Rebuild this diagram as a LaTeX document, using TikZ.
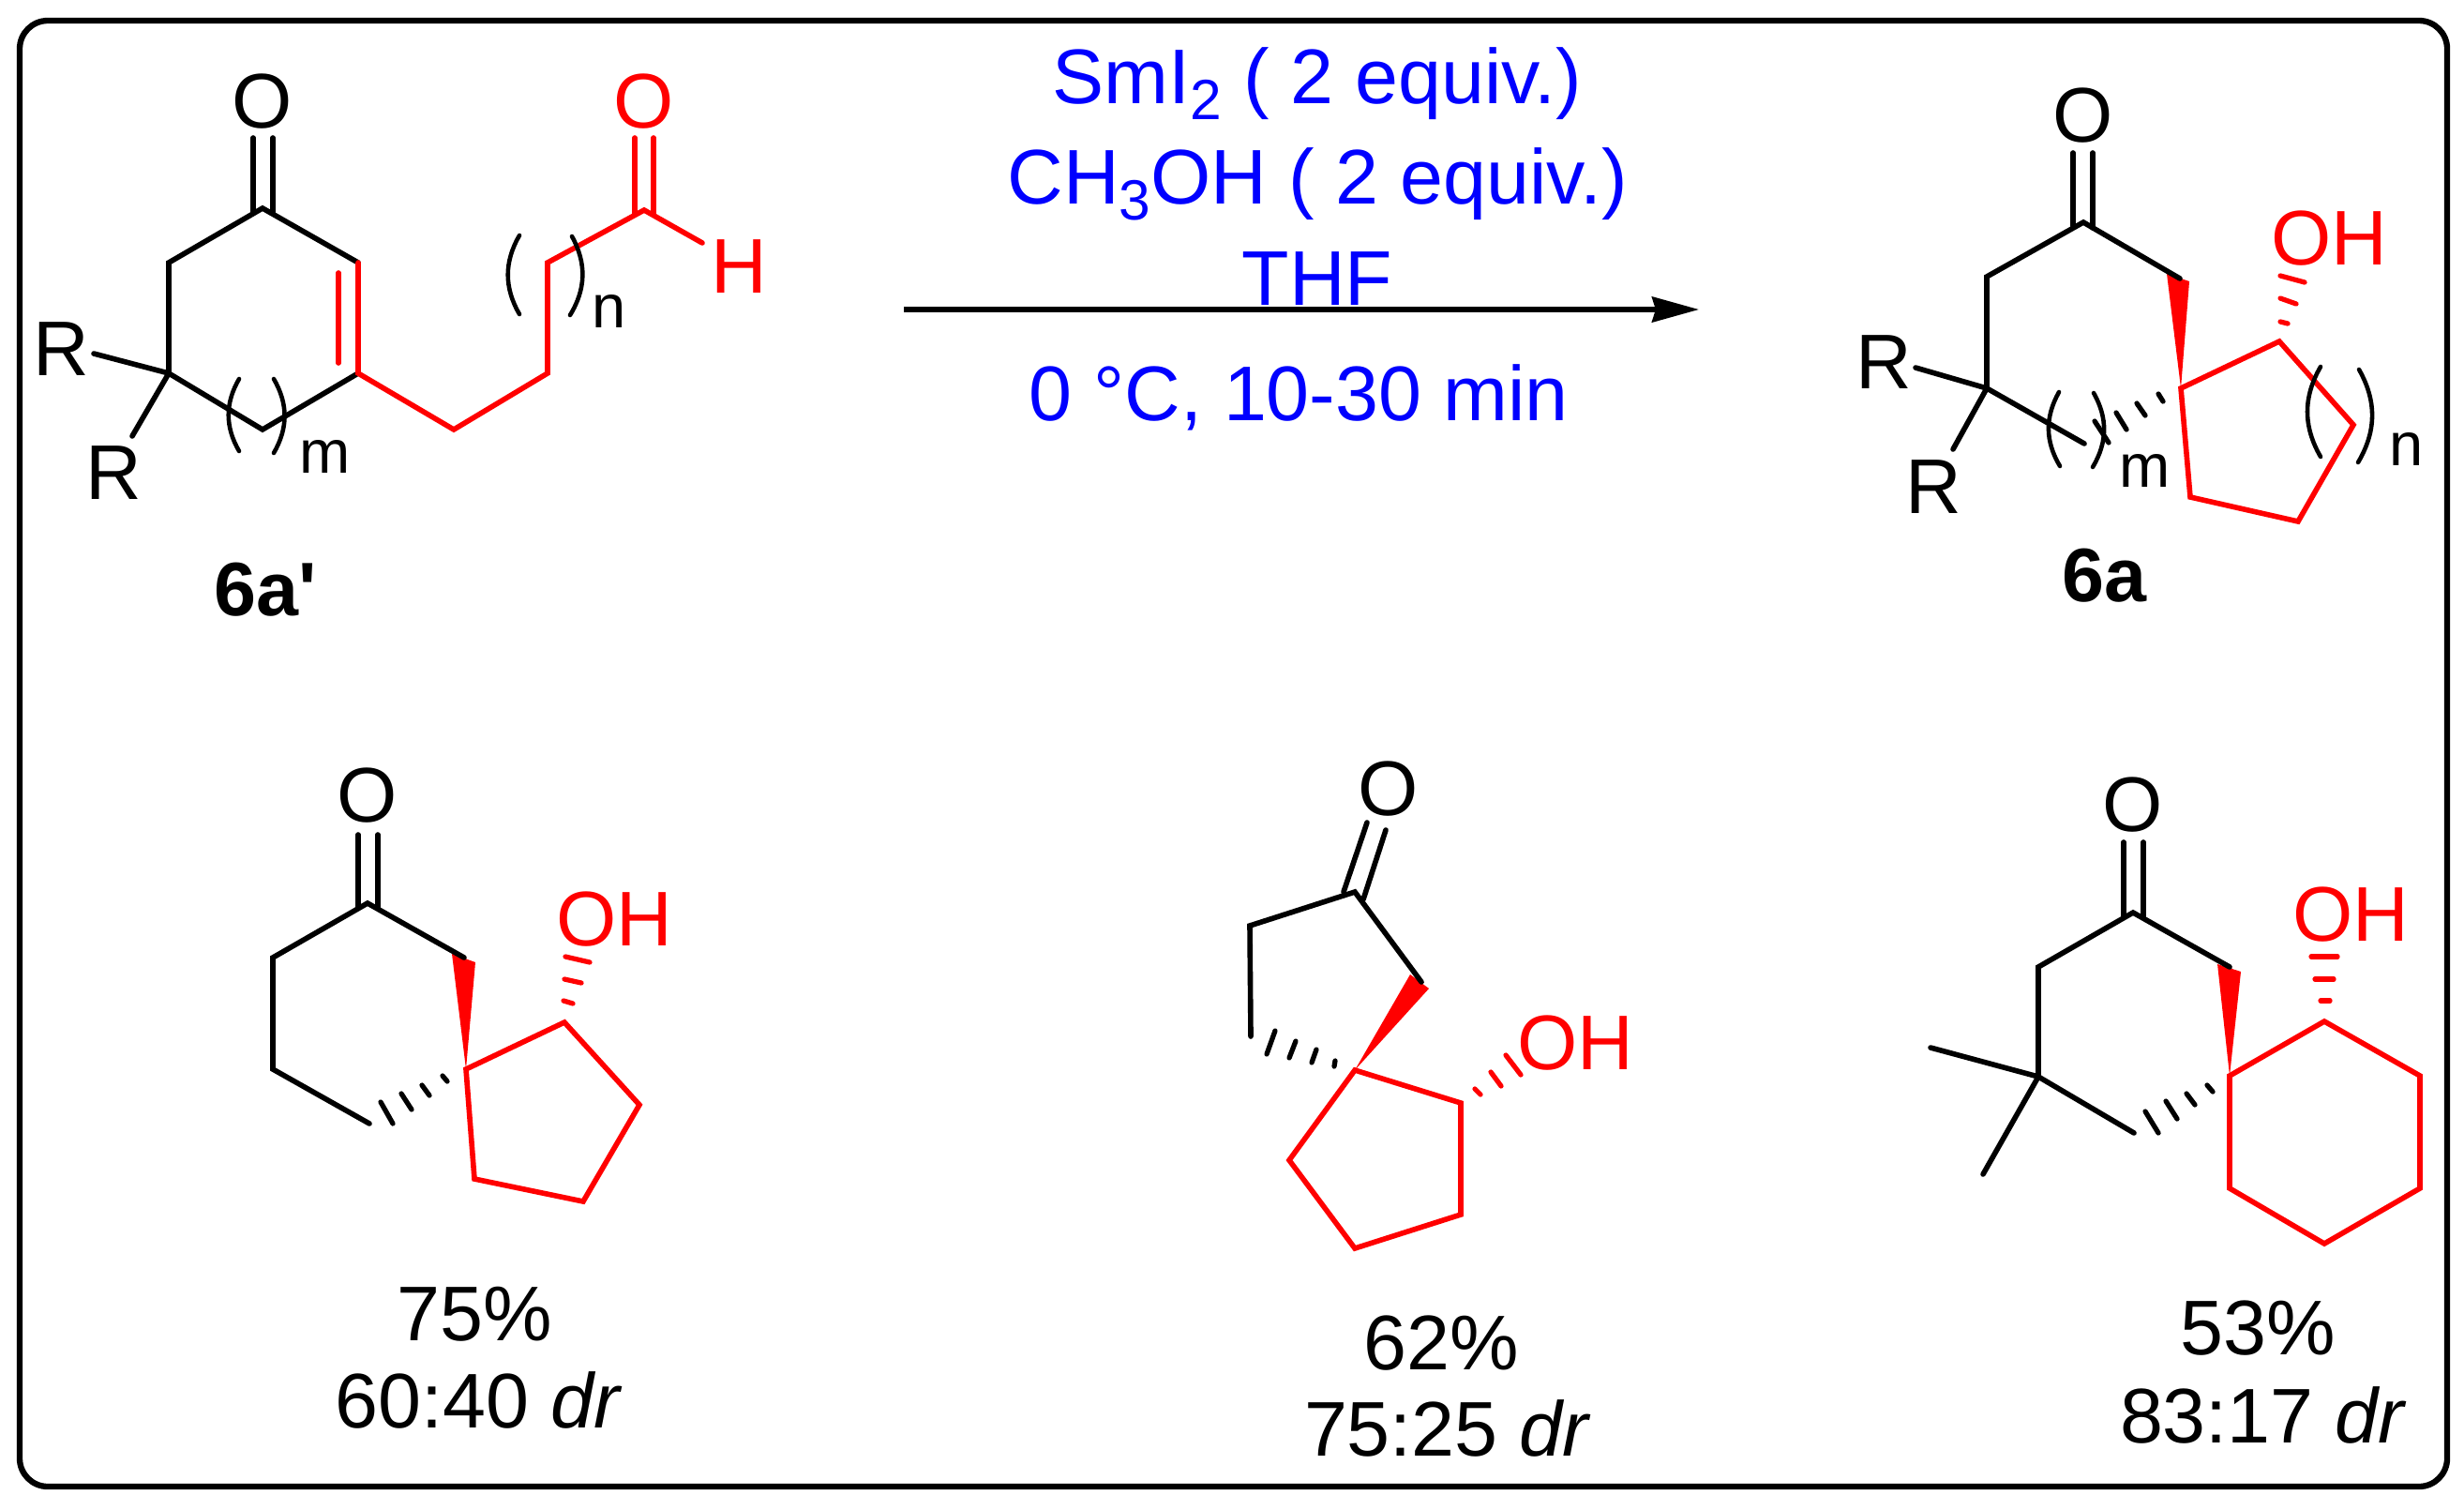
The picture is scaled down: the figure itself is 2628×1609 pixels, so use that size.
\documentclass[tikz,border=0pt]{standalone}
\usepackage{fontspec}
\setmainfont{Liberation Sans}
\usetikzlibrary{arrows.meta}
\newcommand{\lowidx}[1]{\raisebox{-0.17cm}{\fontsize{17.2}{20}\selectfont #1}}
\tikzset{
	lab/.style={inner sep=0pt, font=\fontsize{23.5}{27}\selectfont},
	redlab/.style={lab, text=red},
	bluelab/.style={lab, text=blue, anchor=base},
	yieldlab/.style={lab, anchor=base},
	idxlab/.style={inner sep=0pt, font=\fontsize{18.5}{22}\selectfont},
	namelab/.style={inner sep=0pt, font=\fontsize{23}{27}\selectfont\bfseries},
	bond/.style={line width=1.6pt, line cap=round, line join=miter},
	redbond/.style={bond, red},
	paren/.style={line width=1.3pt, line cap=round, bend right=30},
	hash/.style={line width=1.5pt, line cap=round},
	redhash/.style={hash, red},
	wedge/.style={fill=red, draw=none}
}
\begin{document}
\begin{tikzpicture}[x=0.01cm, y=-0.01cm]
		\useasboundingbox (0,0) rectangle (2628,1609);
		\draw [line width=1.8pt, rounded corners=0.3cm](21,22) rectangle (2610,1585);

		\coordinate (a1) at (280,222); \coordinate (a2) at (180,280); \coordinate (a3) at (180,398);
		\coordinate (a4) at (280,458); \coordinate (a5) at (382,398); \coordinate (a6) at (382,280);
		\coordinate (a7) at (484,458); \coordinate (a8) at (584,398); \coordinate (a9) at (584,280);
		\coordinate (a10) at (687,224); \coordinate (a11) at (749,259);
		\coordinate (a12) at (361,291); \coordinate (a13) at (361,387);
		\coordinate (a14) at (270,147); \coordinate (a15) at (270,226);
		\coordinate (a16) at (291,147); \coordinate (a17) at (291,226);
		\coordinate (a18) at (677,147); \coordinate (a19) at (677,228);
		\coordinate (a20) at (697,147); \coordinate (a21) at (697,228);
		\coordinate (a22) at (100,377); \coordinate (a23) at (141,465);
		\node (ao)[lab] at (280,108) {O};
		\node (ar1)[lab] at (65,372) {R};
		\node (ar2)[lab] at (121,504) {R};
		\node (ao2)[redlab] at (687,108) {O};
		\node (ah)[redlab] at (788,284) {H};
		\node (am)[idxlab] at (347,487) {m};
		\node (an)[idxlab] at (650,332) {n};
		\node (aname)[namelab] at (283,629) {6a\textquotesingle};
		\draw [bond](a6)--(a1)--(a2)--(a3)--(a4)--(a5);
		\draw [bond](a3)--(a22);
		\draw [bond](a3)--(a23);
		\draw [bond](a14)--(a15);
		\draw [bond](a16)--(a17);
		\draw [redbond](a6)--(a5)--(a7)--(a8)--(a9)--(a10)--(a11);
		\draw [redbond](a12)--(a13);
		\draw [redbond](a18)--(a19);
		\draw [redbond](a20)--(a21);
		\draw [paren](255,404) to (255,481);
		\draw [paren](292,483) to (292,404);
		\draw [paren](554,251) to (554,335);
		\draw [paren](608,336) to (610,252);

		\node (r1)[bluelab] at (1405,110) {SmI\lowidx{2} ( 2 equiv.)};
		\node (r2)[bluelab] at (1405,217) {CH\lowidx{3}OH ( 2 equiv.)};
		\node (r3)[bluelab] at (1405,325) {THF};
		\node (r4)[bluelab] at (1385,448) {0 °C, 10-30 min};
		\coordinate (s) at (964,330);
		\coordinate (t) at (1812,330);
		\draw [-{Stealth[length=0.5cm, width=0.27cm, inset=0.04cm]}, line width=1.5pt](s)--(t);

		\coordinate (b1) at (2222,237); \coordinate (b2) at (2119,295); \coordinate (b3) at (2119,414);
		\coordinate (b4) at (2223,473); \coordinate (b5) at (2325,297); \coordinate (b6) at (2326,414);
		\coordinate (b7) at (2431,364); \coordinate (b8) at (2510,453); \coordinate (b9) at (2451,556);
		\coordinate (b10) at (2336,530); \coordinate (b11) at (2311,292); \coordinate (b12) at (2335,300);
		\coordinate (b13) at (2211,163); \coordinate (b14) at (2211,241);
		\coordinate (b15) at (2232,163); \coordinate (b16) at (2232,243);
		\coordinate (b17) at (2043,392); \coordinate (b18) at (2083,479);
		\node (bo)[lab] at (2222,123) {O};
		\node (boh)[redlab] at (2484,254) {OH};
		\node (br1)[lab] at (2009,386) {R};
		\node (br2)[lab] at (2062,519) {R};
		\node (bm)[idxlab] at (2288,502) {m};
		\node (bn)[idxlab] at (2567,479) {n};
		\node (bname)[namelab] at (2244,614) {6a};
		\fill [wedge](b6)--(b11)--(b12)--cycle;
		\draw [redbond](b6)--(b7)--(b8)--(b9)--(b10)--cycle;
		\draw [bond](b5)--(b1)--(b2)--(b3)--(b4);
		\draw [bond](b3)--(b17);
		\draw [bond](b3)--(b18);
		\draw [bond](b13)--(b14);
		\draw [bond](b15)--(b16);
		\foreach \xa/\ya/\xb/\yb in {2302/420/2307/428, 2279/430/2288/443, 2257/440/2268/458, 2234/449/2249/472}
			\draw [hash](\xa,\ya)--(\xb,\yb);
		\foreach \xa/\ya/\xb/\yb in {2432/343/2440/345, 2432/318/2449/324, 2432/294/2458/301}
			\draw [redhash](\xa,\ya)--(\xb,\yb);
		\draw [paren](2196,418) to (2197,497);
		\draw [paren](2232,498) to (2233,419);
		\draw [paren](2475,391) to (2475,487);
		\draw [paren](2515,493) to (2516,394);

		\coordinate (c1) at (392,963); \coordinate (c2) at (291,1021); \coordinate (c3) at (291,1140);
		\coordinate (c4) at (394,1198); \coordinate (c5) at (495,1021); \coordinate (c6) at (497,1140);
		\coordinate (c7) at (602,1090); \coordinate (c8) at (682,1178); \coordinate (c9) at (622,1281);
		\coordinate (c10) at (506,1257); \coordinate (c11) at (482,1017); \coordinate (c12) at (507,1026);
		\coordinate (c13) at (382,890); \coordinate (c14) at (382,968);
		\coordinate (c15) at (403,890); \coordinate (c16) at (403,968);
		\node (co)[lab] at (392,848) {O};
		\node (coh)[redlab] at (655,980) {OH};
		\node (cy1)[yieldlab] at (506,1429) {75\%};
		\node (cy2)[yieldlab] at (511,1522) {60:40 \textit{dr}};
		\fill [wedge](c6)--(c11)--(c12)--cycle;
		\draw [redbond](c6)--(c7)--(c8)--(c9)--(c10)--cycle;
		\draw [bond](c5)--(c1)--(c2)--(c3)--(c4);
		\draw [bond](c13)--(c14);
		\draw [bond](c15)--(c16);
		\foreach \xa/\ya/\xb/\yb in {472/1147/477/1153, 450/1157/458/1168, 428/1166/439/1183, 406/1175/419/1198}
			\draw [hash](\xa,\ya)--(\xb,\yb);
		\foreach \xa/\ya/\xb/\yb in {601/1067/611/1070, 602/1044/620/1048, 603/1020/629/1026}
			\draw [redhash](\xa,\ya)--(\xb,\yb);

		\coordinate (d1) at (1445,951); \coordinate (d2) at (1333,987); \coordinate (d3) at (1334,1105);
		\coordinate (d4) at (1516,1047); \coordinate (d5) at (1445,1141); \coordinate (d6) at (1558,1176);
		\coordinate (d7) at (1558,1295); \coordinate (d8) at (1445,1331); \coordinate (d9) at (1375,1237);
		\coordinate (d10) at (1504,1039); \coordinate (d11) at (1524,1054);
		\coordinate (d12) at (1433,951); \coordinate (d13) at (1458,877);
		\coordinate (d14) at (1454,959); \coordinate (d15) at (1478,885);
		\node (do)[lab] at (1481,841) {O};
		\node (doh)[redlab] at (1680,1112) {OH};
		\node (dy1)[yieldlab] at (1537,1460) {62\%};
		\node (dy2)[yieldlab] at (1544,1552) {75:25 \textit{dr}};
		\fill [wedge](d5)--(d10)--(d11)--cycle;
		\draw [redbond](d5)--(d6)--(d7)--(d8)--(d9)--cycle;
		\draw [bond](d4)--(d1)--(d2)--(d3);
		\draw [bond](d12)--(d13);
		\draw [bond](d14)--(d15);
		\foreach \xa/\ya/\xb/\yb in {1424/1131/1423/1137, 1404/1119/1399/1133, 1382/1110/1375/1128, 1360/1099/1351/1124}
			\draw [hash](\xa,\ya)--(\xb,\yb);
		\foreach \xa/\ya/\xb/\yb in {1573/1161/1579/1167, 1590/1143/1601/1158, 1606/1125/1622/1146}
			\draw [redhash](\xa,\ya)--(\xb,\yb);

		\coordinate (e1) at (2275,973); \coordinate (e2) at (2174,1031); \coordinate (e3) at (2174,1148);
		\coordinate (e4) at (2276,1208); \coordinate (e5) at (2378,1031); \coordinate (e6) at (2378,1147);
		\coordinate (e7) at (2479,1089); \coordinate (e8) at (2581,1147); \coordinate (e9) at (2581,1267);
		\coordinate (e10) at (2479,1326); \coordinate (e11) at (2378,1267);
		\coordinate (e12) at (2365,1028); \coordinate (e13) at (2390,1036);
		\coordinate (e14) at (2265,898); \coordinate (e15) at (2265,978);
		\coordinate (e16) at (2286,898); \coordinate (e17) at (2286,978);
		\coordinate (e18) at (2059,1117); \coordinate (e19) at (2115,1252);
		\node (eo)[lab] at (2275,858) {O};
		\node (eoh)[redlab] at (2507,975) {OH};
		\node (ey1)[yieldlab] at (2408,1444) {53\%};
		\node (ey2)[yieldlab] at (2414,1538) {83:17 \textit{dr}};
		\fill [wedge](e6)--(e12)--(e13)--cycle;
		\draw [redbond](e6)--(e7)--(e8)--(e9)--(e10)--(e11)--cycle;
		\draw [bond](e5)--(e1)--(e2)--(e3)--(e4);
		\draw [bond](e3)--(e18);
		\draw [bond](e3)--(e19);
		\draw [bond](e14)--(e15);
		\draw [bond](e16)--(e17);
		\foreach \xa/\ya/\xb/\yb in {2354/1157/2360/1164, 2332/1166/2341/1178, 2310/1174/2322/1193, 2288/1185/2302/1208}
			\draw [hash](\xa,\ya)--(\xb,\yb);
		\foreach \xa/\ya/\xb/\yb in {2475/1067/2485/1067, 2469/1044/2489/1044, 2465/1020/2493/1020}
			\draw [redhash](\xa,\ya)--(\xb,\yb);
	\end{tikzpicture}
\end{document}
